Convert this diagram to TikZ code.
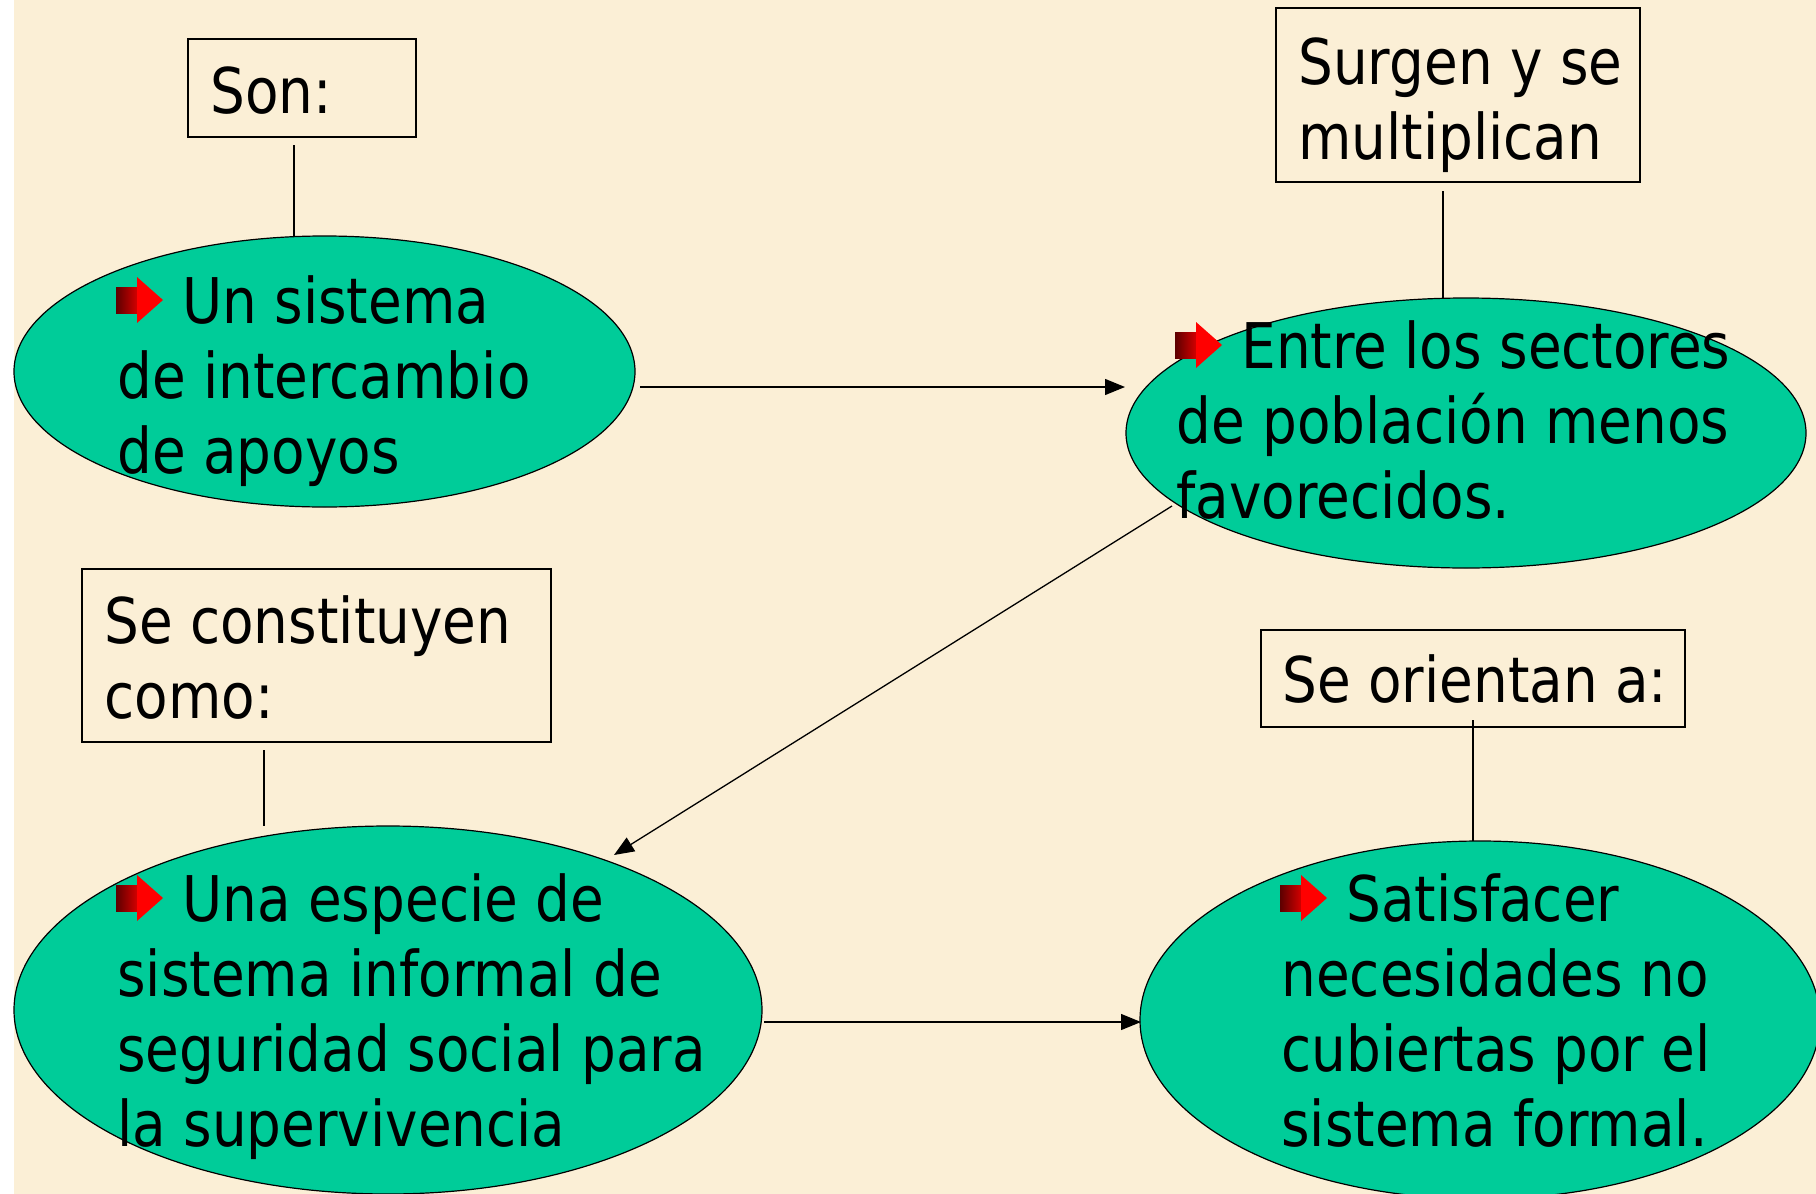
\documentclass[tikz,border=0pt]{standalone}
\usepackage{fontspec}
\setmainfont{DejaVu Sans}[FakeStretch=0.87]
\usetikzlibrary{shapes.geometric,arrows.meta}
\definecolor{cream}{HTML}{FBEFD6}
\definecolor{ovalgreen}{HTML}{00CC99}
\definecolor{bulletred}{HTML}{FF0000}
\definecolor{bulletdark}{HTML}{5C0000}
\tikzset{
  oval/.style={ellipse, draw=black, line width=0.6pt, fill=ovalgreen, inner sep=0pt},
  labelbox/.style={rectangle, draw=black, line width=0.7pt, inner sep=0pt},
  txt/.style={anchor=base west, inner sep=0pt, font=\fontsize{31.5pt}{37.5pt}\selectfont},
  conn/.style={line width=0.65pt},
  arr/.style={conn, -{Triangle[length=10pt,width=8pt]}}
}
\newcommand{\redbullet}[2]{%
  \shade[left color=bulletdark, right color=bulletred!85!black] ({#1-1},{#2-36}) rectangle ({#1+21},{#2-10});
  \fill[bulletred] ({#1+20},{#2-46}) -- ({#1+46},{#2-23}) -- ({#1+20},{#2}) -- cycle;
}
\begin{document}
\begin{tikzpicture}[x=0.5pt,y=-0.5pt]
\useasboundingbox (0,0) rectangle (1816,1194);
\clip (0,0) rectangle (1816,1194);
\fill[cream] (0,0) rectangle (1816,1194);
\fill[white] (0,0) rectangle (14,1194);

% label boxes
\node[labelbox, minimum width=114pt, minimum height=49pt] (b1) at (302,88) {};
\node[labelbox, minimum width=182pt, minimum height=87pt] (b2) at (1458,95) {};
\node[labelbox, minimum width=234.5pt, minimum height=86.5pt] (b3) at (316.5,655.5) {};
\node[labelbox, minimum width=212pt, minimum height=48.5pt] (b4) at (1473,678.5) {};

\node[txt] (b1t) at (210,113) {Son:};
\node[txt] (b2t) at (1298,84) {Surgen y se};
\node[txt] (b2u) at (1298,159) {multiplican};
\node[txt] (b3t) at (104,643) {Se constituyen};
\node[txt] (b3u) at (104,718) {como:};
\node[txt] (b4t) at (1282,702) {Se orientan a:};

% connector end points
\coordinate (c1a) at (294,145);  \coordinate (c1b) at (294,236);
\coordinate (c2a) at (1443,191); \coordinate (c2b) at (1443,298);
\coordinate (c3a) at (264,750);  \coordinate (c3b) at (264,826);
\coordinate (c4a) at (1473,720); \coordinate (c4b) at (1473,841);
\draw[conn] (c1a) -- (c1b);
\draw[conn] (c2a) -- (c2b);
\draw[conn] (c3a) -- (c3b);
\draw[conn] (c4a) -- (c4b);

% ovals
\node[oval, minimum width=310.5pt, minimum height=135.5pt] (e1) at (324.5,371.5) {};
\node[oval, minimum width=340pt, minimum height=135pt] (e2) at (1466,433) {};
\node[oval, minimum width=374pt, minimum height=184pt] (e3) at (388,1010) {};
\node[oval, minimum width=340pt, minimum height=179pt] (e4) at (1480,1020) {};

% arrows between ovals
\coordinate (a1s) at (640,387);   \coordinate (a1e) at (1125,387);
\coordinate (a2s) at (1172,506);  \coordinate (a2e) at (614,855);
\coordinate (a3s) at (764,1022);  \coordinate (a3e) at (1141,1022);
\draw[arr] (a1s) -- (a1e);
\draw[arr] (a2s) -- (a2e);
\draw[arr] (a3s) -- (a3e);

% oval texts
\redbullet{117}{323}
\node[txt] (e1t1) at (182,323) {Un sistema};
\node[txt] (e1t2) at (117,398) {de intercambio};
\node[txt] (e1t3) at (117,473) {de apoyos};

\redbullet{1176}{368}
\node[txt] (e2t1) at (1241,368) {Entre los sectores};
\node[txt] (e2t2) at (1176,443) {de población menos};
\node[txt] (e2t3) at (1176,518) {favorecidos.};

\redbullet{117}{921}
\node[txt] (e3t1) at (182,921) {Una especie de};
\node[txt] (e3t2) at (117,996) {sistema informal de};
\node[txt] (e3t3) at (117,1071) {seguridad social para};
\node[txt] (e3t4) at (117,1146) {la supervivencia};

\redbullet{1281}{921}
\node[txt] (e4t1) at (1346,921) {Satisfacer};
\node[txt] (e4t2) at (1281,996) {necesidades no};
\node[txt] (e4t3) at (1281,1071) {cubiertas por el};
\node[txt] (e4t4) at (1281,1146) {sistema formal.};
\end{tikzpicture}
\end{document}
